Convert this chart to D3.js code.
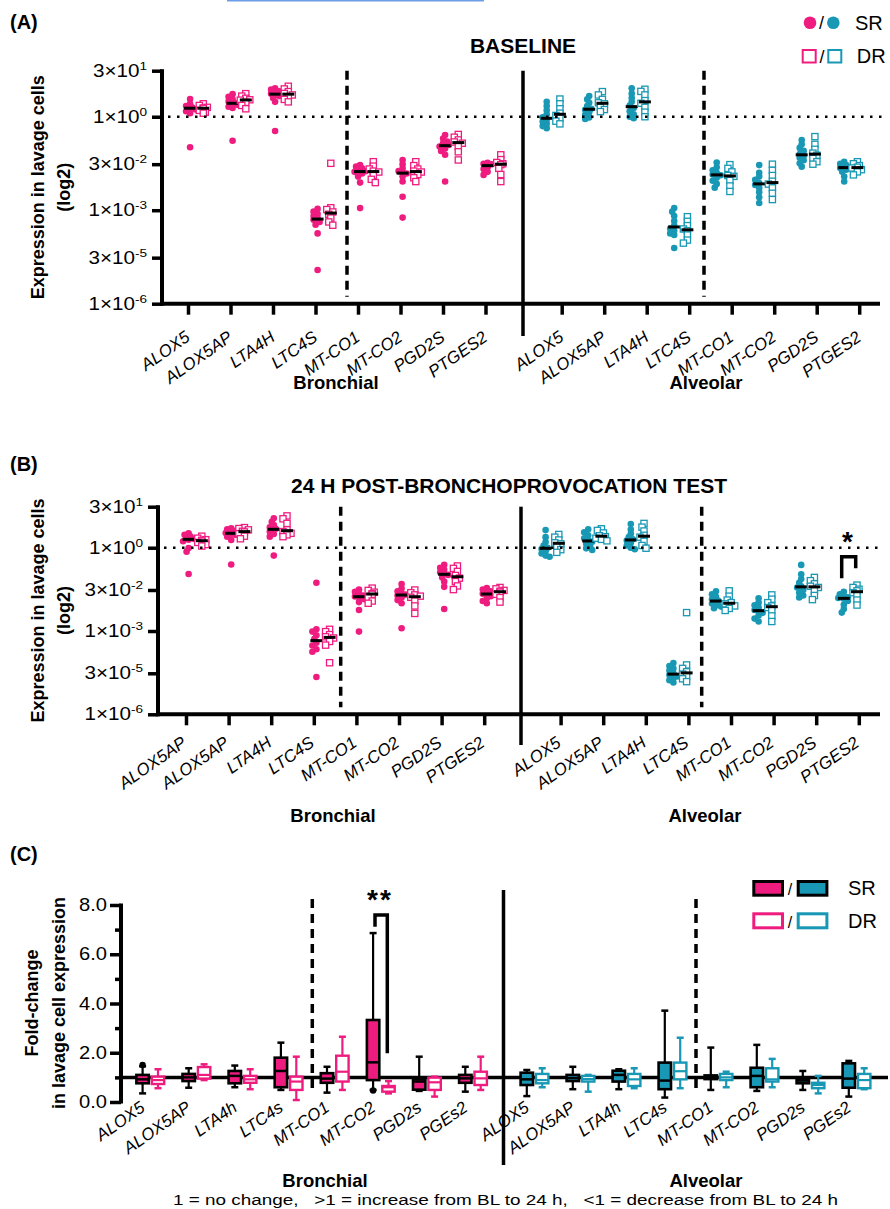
<!DOCTYPE html>
<html>
<meta charset="utf-8">
<head>
  <title>Lavage cell expression</title>
</head>
<style>
body { margin: 0; background: #fff; }
svg { display: block; font-family: "Liberation Sans", Arial, sans-serif; }
.ax path { display: none; }
.ax line { stroke: #000; stroke-width: 3.5px; }
.lbl { font-style: italic; font-size: 17px; }
.grp { font-weight: bold; font-size: 18.5px; text-anchor: middle; }
.ttl { font-weight: bold; font-size: 21px; text-anchor: middle; }
.ytitle { font-weight: bold; font-size: 18px; text-anchor: middle; }
.tick { font-size: 17.5px; text-anchor: end; }
</style>
<body>
<script src="https://cdnjs.cloudflare.com/ajax/libs/d3/7.8.5/d3.min.js"></script>
<script>

var pink = "#ef1c80", teal = "#1898b4";

var genesA = ["ALOX5","ALOX5AP","LTA4H","LTC4S","MT-CO1","MT-CO2","PGD2S","PTGES2"];
var genesBbronch = ["ALOX5AP","ALOX5AP","LTA4H","LTC4S","MT-CO1","MT-CO2","PGD2S","PTGES2"];
var genesC = ["ALOX5","ALOX5AP","LTA4h","LTC4s","MT-CO1","MT-CO2","PGD2s","PGEs2"];
var logTicks = [30, 1, 0.03, 1e-3, 3e-5, 1e-6];
var foldTicks = [0, 2, 4, 6, 8];
var foldMinor = [1, 3, 5, 7];

// baseline, bronchial / alveolar, SR (dots) and DR (squares)
var aBronchSR = [
  [3.7,2.6,2.2,2.0,1.9,1.85,1.7,1.5,1.3,0.105],
  [5.3,4.4,3.6,3.1,2.8,2.6,2.4,2.1,1.9,0.17],
  [8.2,7.4,6.6,6.0,5.5,5.1,4.6,4.0,3.0,0.35],
  [1.1e-3,9e-4,7.5e-4,6.5e-4,5.5e-4,4.9e-4,4.2e-4,3.4e-4,1.8e-4,1.2e-5],
  [0.028,0.025,0.022,0.019,0.0178,0.017,0.015,0.012,0.0077,0.00117],
  [0.041,0.03,0.022,0.018,0.016,0.015,0.012,0.0083,0.0027,0.00058],
  [0.26,0.2,0.16,0.14,0.125,0.111,0.095,0.08,0.06,0.0083],
  [0.033,0.031,0.03,0.029,0.028,0.026,0.024,0.021,0.017,0.0136]
];
var aBronchDR = [
  [2.6,2.3,2.0,1.9,1.85,1.6,1.4,1.3],
  [5.5,4.6,3.9,3.5,3.4,2.9,2.3,1.8],
  [9.5,7.8,6.4,5.6,5.0,4.3,3.6,3.0],
  [0.032,1.2e-3,1.05e-3,8.8e-4,7.4e-4,5.6e-4,4.2e-4,3.3e-4],
  [0.036,0.026,0.021,0.018,0.0168,0.013,0.0098,0.0077],
  [0.036,0.027,0.021,0.018,0.0168,0.014,0.011,0.0083],
  [0.27,0.22,0.18,0.155,0.141,0.11,0.075,0.041],
  [0.06,0.042,0.034,0.031,0.029,0.022,0.014,0.0083]
];
var aAlvSR = [
  [3.0,2.2,1.6,1.2,0.95,0.83,0.7,0.6,0.5,0.43],
  [4.6,3.6,2.8,2.2,1.8,1.68,1.4,1.15,0.95,0.85],
  [8.2,5.5,4.0,3.0,2.3,1.9,1.5,1.2,1.0,0.89],
  [1.17e-3,9e-4,6.5e-4,4.5e-4,3.2e-4,2.6e-4,2.2e-4,1.8e-4,1.6e-4,6.1e-5],
  [0.034,0.024,0.019,0.016,0.014,0.0132,0.011,0.0088,0.007,0.0053],
  [0.028,0.016,0.012,0.0095,0.0075,0.0065,0.0052,0.0038,0.0026,0.0017],
  [0.18,0.13,0.1,0.08,0.064,0.056,0.048,0.04,0.032,0.025],
  [0.036,0.031,0.028,0.026,0.024,0.0226,0.02,0.017,0.012,0.0083]
];
var aAlvDR = [
  [3.7,2.6,1.8,1.3,1.1,0.9,0.72,0.59],
  [6.4,5.0,3.6,2.8,2.6,2.0,1.7,1.46],
  [7.6,6.5,5.0,3.3,2.7,2.0,1.4,1.0],
  [6.2e-4,4.4e-4,3.2e-4,2.5e-4,2.2e-4,1.6e-4,1.1e-4,8.8e-5],
  [0.029,0.022,0.017,0.013,0.0122,0.009,0.006,0.004],
  [0.03,0.019,0.013,0.0085,0.0069,0.0052,0.0035,0.0022],
  [0.23,0.13,0.09,0.068,0.058,0.046,0.036,0.03],
  [0.036,0.031,0.027,0.024,0.0226,0.02,0.017,0.0136]
];

// 24 h post-bronchoprovocation
var bBronchSR = [
  [3.3,2.9,2.5,2.2,2.05,1.95,1.7,0.97,0.72,0.113],
  [5.0,4.6,4.1,3.6,3.4,3.2,2.9,2.5,1.9,0.25],
  [11.5,8.5,6.5,5.4,4.8,4.4,3.8,3.1,2.5,0.52],
  [0.055,1.15e-3,9.5e-4,7e-4,5.2e-4,3.8e-4,3.0e-4,2.2e-4,1.8e-4,2.2e-5],
  [0.031,0.026,0.022,0.019,0.0176,0.0168,0.014,0.011,0.0057,0.00095],
  [0.049,0.034,0.027,0.023,0.0205,0.019,0.016,0.013,0.01,0.00125],
  [0.24,0.19,0.16,0.13,0.115,0.105,0.085,0.06,0.039,0.0062],
  [0.035,0.031,0.027,0.024,0.022,0.021,0.018,0.015,0.012,0.01]
];
var bBronchDR = [
  [2.6,2.2,1.95,1.85,1.73,1.55,1.3,1.15],
  [5.3,4.9,4.4,3.9,3.7,3.2,2.6,2.1],
  [14,11,7.5,4.4,3.8,3.3,2.9,2.5],
  [1.15e-3,9.5e-4,7.4e-4,6.2e-4,5.6e-4,4.2e-4,3.1e-4,7.2e-5],
  [0.035,0.029,0.025,0.022,0.021,0.016,0.012,0.01],
  [0.03,0.024,0.02,0.018,0.0164,0.012,0.008,0.0043],
  [0.22,0.18,0.14,0.1,0.08,0.06,0.042,0.031],
  [0.037,0.033,0.029,0.027,0.025,0.021,0.016,0.011]
];
var bAlvSR = [
  [4.3,2.4,1.6,1.2,1.0,0.9,0.75,0.62,0.52,0.47],
  [4.6,3.6,2.8,2.2,1.85,1.65,1.4,1.1,0.95,0.83],
  [7.1,4.5,3.2,2.4,2.0,1.8,1.5,1.2,1.0,0.88],
  [7e-5,5.5e-5,4.5e-5,3.8e-5,3.0e-5,2.6e-5,2.3e-5,2.0e-5,1.7e-5,1.4e-5],
  [0.027,0.021,0.017,0.014,0.0125,0.0115,0.0098,0.0085,0.0075,0.0066],
  [0.015,0.0105,0.0085,0.007,0.0057,0.0051,0.0045,0.0036,0.0028,0.0022],
  [0.24,0.11,0.075,0.055,0.041,0.037,0.03,0.024,0.019,0.016],
  [0.026,0.021,0.018,0.0165,0.0155,0.0145,0.012,0.0088,0.0062,0.0046]
];
var bAlvDR = [
  [3.0,2.4,1.9,1.5,1.38,1.1,0.85,0.68],
  [4.8,4.2,3.4,2.7,2.5,2.2,2.0,1.77],
  [7.5,5.5,4.0,2.8,2.4,1.7,1.2,0.96],
  [4.6e-3,6e-5,4.5e-5,3.4e-5,2.8e-5,2.3e-5,1.9e-5,1.5e-5],
  [0.028,0.018,0.013,0.0105,0.0095,0.008,0.0065,0.0055],
  [0.02,0.014,0.0105,0.008,0.007,0.0055,0.0035,0.0022],
  [0.085,0.065,0.05,0.041,0.037,0.028,0.019,0.0135],
  [0.045,0.037,0.032,0.028,0.024,0.019,0.013,0.0086]
];

// fold-change boxes: [min, q1, median, q3, max]
var cBronchSR = [
  [0.35,0.76,0.92,1.10,1.45],
  [0.58,0.85,1.0,1.14,1.37],
  [0.6,0.76,1.06,1.26,1.48],
  [0.49,0.6,1.26,1.80,2.41],
  [0.38,0.78,0.95,1.17,1.43],
  [0.49,0.89,1.61,3.33,6.86],
  [0.45,0.5,0.83,0.92,1.84],
  [0.42,0.78,0.96,1.10,1.43]
];
var cBronchDR = [
  [0.56,0.73,0.89,1.03,1.33],
  [0.89,0.95,1.1,1.42,1.53],
  [0.52,0.78,0.92,1.06,1.33],
  [0.08,0.49,0.83,1.03,1.84],
  [0.49,0.83,1.23,1.88,2.65],
  [0.35,0.42,0.6,0.65,0.85],
  [0.22,0.49,0.8,0.99,1.03],
  [0.49,0.69,0.96,1.23,1.84]
];
var cAlvSR = [
  [0.24,0.69,0.92,1.19,1.30],
  [0.52,0.85,0.97,1.10,1.43],
  [0.52,0.83,1.10,1.27,1.33],
  [0.18,0.52,0.87,1.60,3.71],
  [0.49,0.93,1.0,1.08,2.21],
  [0.45,0.6,1.06,1.39,2.32],
  [0.49,0.76,0.87,0.92,1.26],
  [0.22,0.58,0.95,1.57,1.67]
];
var cAlvDR = [
  [0.6,0.76,0.89,1.14,1.37],
  [0.42,0.83,0.93,1.06,1.10],
  [0.56,0.65,0.92,1.14,1.37],
  [0.56,0.92,1.25,1.60,2.61],
  [0.6,0.89,1.0,1.14,1.23],
  [0.6,0.83,0.92,1.37,1.75],
  [0.35,0.56,0.69,0.78,1.06],
  [0.52,0.56,0.89,1.14,1.37]
];
var cBronchSRDots = [[1.5],[],[],[],[],[0.47],[],[]];

var width = 890, height = 1209;

var svg = d3.select("body").append("svg")
    .attr("width", width)
    .attr("height", height);

svg.append("rect").attr("width", width).attr("height", height).attr("fill", "#fff");
svg.append("rect").attr("x", 227).attr("y", 0).attr("width", 257).attr("height", 1.5).attr("fill", "#6d9de6");

function vline(x, y1, y2, dashed) {
  svg.append("line")
      .attr("x1", x).attr("x2", x).attr("y1", y1).attr("y2", y2)
      .attr("stroke", "#000").attr("stroke-width", 3.5)
      .attr("stroke-dasharray", dashed ? "9,6" : null);
}

function swarm(vals, y, cx, minD) {
  var pts = vals.map(function(v) { return {v: v, py: y(v)}; })
      .sort(function(a, b) { return a.py - b.py; });
  var placed = [];
  var offs = [0, -2, 2, -4, 4, -5.5, 5.5];
  pts.forEach(function(p) {
    for (var k = 0; k < offs.length; k++) {
      var ok = placed.every(function(q) {
        return Math.hypot(q.px - (cx + offs[k]), q.py - p.py) >= minD;
      });
      if (ok) { p.px = cx + offs[k]; break; }
    }
    if (p.px == null) p.px = cx;
    placed.push(p);
  });
  return pts;
}

// tick label like 3x10^-2, stretched a little as in the figure
function sciLabel(x, y, v) {
  var e = Math.floor(Math.log10(v) + 1e-9);
  var m = Math.round(v / Math.pow(10, e));
  var t = svg.append("text").attr("class", "tick")
      .attr("transform", "translate(" + x + "," + y + ") scale(1.18,1)");
  t.append("tspan").text(m + "\u00d710");
  t.append("tspan").attr("dy", -7).attr("font-size", 11.5).text(e);
}

function scatterPanel(cfg) {
  var y = d3.scaleLog().domain([1e-6, 30]).range([cfg.bot, cfg.top]);

  svg.append("g").attr("class", "ax")
      .attr("transform", "translate(" + cfg.axisX + ",0)")
      .call(d3.axisLeft(y).tickValues(logTicks).tickSize(10).tickFormat(""));
  svg.append("line").attr("x1", cfg.axisX).attr("x2", cfg.axisX)
      .attr("y1", cfg.top - 1.5).attr("y2", cfg.bot + 2)
      .attr("stroke", "#000").attr("stroke-width", 4);
  logTicks.forEach(function(v) {
    sciLabel(cfg.axisX - 15, y(v) + 6, v);
  });

  svg.append("line").attr("x1", cfg.axisX).attr("x2", cfg.xEnd)
      .attr("y1", cfg.bot).attr("y2", cfg.bot)
      .attr("stroke", "#000").attr("stroke-width", 4);

  [["b", cfg.dB, cfg.tB, cfg.labB, cfg.srB, cfg.drB, cfg.colB],
   ["a", cfg.dA, cfg.tA, cfg.labA, cfg.srA, cfg.drA, cfg.colA]].forEach(function(r) {
    var xd = d3.scaleLinear().domain([0, 7]).range([r[1], r[1] + 7 * cfg.step]);
    var xt = d3.scaleLinear().domain([0, 7]).range([r[1] + r[2], r[1] + r[2] + 7 * cfg.step]);
    var col = r[6];

    svg.append("g").attr("class", "ax")
        .attr("transform", "translate(0," + cfg.bot + ")")
        .call(d3.axisBottom(xt).tickValues(d3.range(8)).tickSize(11).tickFormat(""));

    r[3].forEach(function(name, i) {
      svg.append("text").attr("class", "lbl")
          .attr("text-anchor", "end")
          .attr("transform", "translate(" + (xt(i) + cfg.labDx) + "," + (cfg.bot + cfg.labDy) + ") rotate(-35)")
          .text(name);
    });

    r[4].forEach(function(vals, i) {
      var cx = xd(i) - 6.6;
      var pts = swarm(vals, y, cx, 3.8);
      svg.append("g").selectAll("circle").data(pts).enter().append("circle")
          .attr("cx", function(d) { return d.px; })
          .attr("cy", function(d) { return d.py; })
          .attr("r", 3.3).attr("fill", col);
      var md = y(d3.median(vals));
      svg.append("line").attr("x1", cx - 6).attr("x2", cx + 6)
          .attr("y1", md).attr("y2", md).attr("stroke", "#000").attr("stroke-width", 3);
    });
    r[5].forEach(function(vals, i) {
      var cx = xd(i) + 6.6;
      var pts = swarm(vals, y, cx, 4.2);
      svg.append("g").selectAll("rect").data(pts).enter().append("rect")
          .attr("x", function(d) { return d.px - 3.1; })
          .attr("y", function(d) { return d.py - 3.1; })
          .attr("width", 6.2).attr("height", 6.2)
          .attr("fill", "#fff").attr("stroke", col)
          .attr("stroke-width", 1.3);
      var md = y(d3.median(vals));
      svg.append("line").attr("x1", cx - 6).attr("x2", cx + 6)
          .attr("y1", md).attr("y2", md).attr("stroke", "#000").attr("stroke-width", 3);
    });
  });

  vline(cfg.sep, cfg.top, cfg.sepBot, false);
  vline(cfg.dashB, cfg.top, cfg.bot - 7, true);
  vline(cfg.dashA, cfg.top, cfg.bot - 7, true);
  svg.append("line").attr("x1", cfg.axisX + 6).attr("x2", 884)
      .attr("y1", y(1)).attr("y2", y(1))
      .attr("stroke", "#000").attr("stroke-width", 2.5).attr("stroke-dasharray", "2.5,6.5");

  svg.append("text").attr("class", "grp").attr("x", cfg.grpB).attr("y", cfg.grpY).text("Bronchial");
  svg.append("text").attr("class", "grp").attr("x", cfg.grpA).attr("y", cfg.grpY).text("Alveolar");

  var cy = (cfg.top + cfg.bot) / 2;
  svg.append("text").attr("class", "ytitle")
      .attr("transform", "translate(44," + cy + ") rotate(-90)").text("Expression in lavage cells");
  svg.append("text").attr("class", "ytitle")
      .attr("transform", "translate(70," + cy + ") rotate(-90)").text("(log2)");
  return y;
}

// panel A
svg.append("text").attr("x", 10).attr("y", 29).attr("font-weight", "bold").attr("font-size", 20).text("(A)");
svg.append("text").attr("class", "ttl").attr("x", 523).attr("y", 53).text("BASELINE");
scatterPanel({
  top: 70.7, bot: 303.7, axisX: 162, xEnd: 880, step: 42.5,
  dB: 196.7, dA: 553.3, tB: -8.7, tA: 8.4,
  labB: genesA, labA: genesA, labDx: 3, labDy: 36,
  srB: aBronchSR, drB: aBronchDR, srA: aAlvSR, drA: aAlvDR,
  colB: pink, colA: teal,
  sep: 523, sepBot: 336, dashB: 347, dashA: 704,
  grpB: 336, grpA: 706, grpY: 389
});

// legend A
svg.append("circle").attr("cx", 810).attr("cy", 22.7).attr("r", 6.3).attr("fill", pink);
svg.append("circle").attr("cx", 833.3).attr("cy", 22.7).attr("r", 6.3).attr("fill", teal);
svg.append("text").attr("x", 821.5).attr("y", 29).attr("font-size", 18).attr("text-anchor", "middle").text("/");
svg.append("text").attr("x", 855).attr("y", 30).attr("font-size", 20).text("SR");
svg.append("rect").attr("x", 802.7).attr("y", 50).attr("width", 13).attr("height", 12.5)
    .attr("fill", "#fff").attr("stroke", pink).attr("stroke-width", 2);
svg.append("rect").attr("x", 828.3).attr("y", 50).attr("width", 13).attr("height", 12.5)
    .attr("fill", "#fff").attr("stroke", teal).attr("stroke-width", 2);
svg.append("text").attr("x", 822).attr("y", 63).attr("font-size", 18).attr("text-anchor", "middle").text("/");
svg.append("text").attr("x", 856.7).attr("y", 63).attr("font-size", 20).text("DR");

// panel B
svg.append("text").attr("x", 10).attr("y", 471).attr("font-weight", "bold").attr("font-size", 20).text("(B)");
svg.append("text").attr("class", "ttl").attr("x", 509).attr("y", 493).attr("font-size", 22.6)
    .text("24 H POST-BRONCHOPROVOCATION TEST");
scatterPanel({
  top: 506.7, bot: 714.3, axisX: 158, xEnd: 880, step: 42.6,
  dB: 195.2, dA: 552.2, tB: -9.2, tA: 8.4,
  labB: genesBbronch, labA: genesA, labDx: 1.5, labDy: 31,
  srB: bBronchSR, drB: bBronchDR, srA: bAlvSR, drA: bAlvDR,
  colB: pink, colA: teal,
  sep: 521, sepBot: 745, dashB: 340.7, dashA: 701.7,
  grpB: 333, grpA: 705, grpY: 822
});
svg.append("path").attr("d", "M841.7,578.3V556.7H855.7V568.3")
    .attr("fill", "none").attr("stroke", "#000").attr("stroke-width", 3.5);
svg.append("text").attr("x", 847.5).attr("y", 551).attr("font-weight", "bold").attr("font-size", 28)
    .attr("text-anchor", "middle").text("*");

// panel C
svg.append("text").attr("x", 10).attr("y", 861).attr("font-weight", "bold").attr("font-size", 20).text("(C)");

var yC = d3.scaleLinear().domain([0, 8]).range([1102, 905]);
var axC = 121;
svg.append("g").attr("class", "ax").attr("transform", "translate(" + axC + ",0)")
    .call(d3.axisLeft(yC).tickValues(foldTicks).tickSize(11).tickFormat(""));
svg.append("g").attr("class", "ax").attr("transform", "translate(" + axC + ",0)")
    .call(d3.axisLeft(yC).tickValues(foldMinor).tickSize(6).tickFormat(""));
svg.append("line").attr("x1", axC).attr("x2", axC).attr("y1", yC(8) - 1.5).attr("y2", yC(0) + 1.5)
    .attr("stroke", "#000").attr("stroke-width", 4);
foldTicks.forEach(function(v) {
  svg.append("text").attr("class", "tick")
      .attr("transform", "translate(107," + (yC(v) + 6) + ") scale(1.15,1)")
      .text(v.toFixed(1));
});
svg.append("line").attr("x1", axC).attr("x2", 888).attr("y1", yC(1)).attr("y2", yC(1))
    .attr("stroke", "#000").attr("stroke-width", 3.5);

function boxes(centers, sr, dr, col, dots) {
  sr.forEach(function(b, i) {
    var cx = centers(i) - 7.7;
    var g = svg.append("g");
    g.append("line").attr("x1", cx).attr("x2", cx).attr("y1", yC(b[0])).attr("y2", yC(b[4]))
        .attr("stroke", "#000").attr("stroke-width", 2.2);
    [b[0], b[4]].forEach(function(v) {
      g.append("line").attr("x1", cx - 3.5).attr("x2", cx + 3.5).attr("y1", yC(v)).attr("y2", yC(v))
          .attr("stroke", "#000").attr("stroke-width", 2.5);
    });
    g.append("rect").attr("x", cx - 6.2).attr("width", 12.4)
        .attr("y", yC(b[3])).attr("height", yC(b[1]) - yC(b[3]))
        .attr("fill", col).attr("stroke", "#000").attr("stroke-width", 2.6);
    g.append("line").attr("x1", cx - 6.2).attr("x2", cx + 6.2).attr("y1", yC(b[2])).attr("y2", yC(b[2]))
        .attr("stroke", "#000").attr("stroke-width", 2.5);
    if (dots) dots[i].forEach(function(v) {
      g.append("circle").attr("cx", cx).attr("cy", yC(v)).attr("r", 3.2).attr("fill", "#000");
    });
  });
  dr.forEach(function(b, i) {
    var cx = centers(i) + 7.7;
    var g = svg.append("g");
    g.append("line").attr("x1", cx).attr("x2", cx).attr("y1", yC(b[0])).attr("y2", yC(b[4]))
        .attr("stroke", col).attr("stroke-width", 2.2);
    [b[0], b[4]].forEach(function(v) {
      g.append("line").attr("x1", cx - 3.5).attr("x2", cx + 3.5).attr("y1", yC(v)).attr("y2", yC(v))
          .attr("stroke", col).attr("stroke-width", 2.5);
    });
    g.append("rect").attr("x", cx - 6.2).attr("width", 12.4)
        .attr("y", yC(b[3])).attr("height", yC(b[1]) - yC(b[3]))
        .attr("fill", "#fff").attr("stroke", col).attr("stroke-width", 2.4);
    g.append("line").attr("x1", cx - 6.2).attr("x2", cx + 6.2).attr("y1", yC(b[2])).attr("y2", yC(b[2]))
        .attr("stroke", col).attr("stroke-width", 2.2);
  });
}

var xCb = d3.scaleLinear().domain([0, 7]).range([150.3, 150.3 + 7 * 46.1]);
var xCa = d3.scaleLinear().domain([0, 7]).range([534.5, 534.5 + 7 * 46]);
boxes(xCb, cBronchSR, cBronchDR, pink, cBronchSRDots);
boxes(xCa, cAlvSR, cAlvDR, teal, null);

[xCb, xCa].forEach(function(xs) {
  genesC.forEach(function(name, i) {
    svg.append("text").attr("class", "lbl").attr("text-anchor", "end")
        .attr("transform", "translate(" + (xs(i) - 4.3) + ",1110) rotate(-35)")
        .text(name);
  });
});

vline(503.5, 890, 1165, false);
vline(312.3, 899, 1092, true);
vline(696, 899, 1092, true);

svg.append("path").attr("d", "M375,926.7V915H387.3V1053.3")
    .attr("fill", "none").attr("stroke", "#000").attr("stroke-width", 3.5);
svg.append("text").attr("x", 380).attr("y", 909).attr("font-weight", "bold").attr("font-size", 28)
    .attr("text-anchor", "middle").attr("letter-spacing", 2).text("**");

svg.append("text").attr("class", "ytitle").attr("transform", "translate(38,1003) rotate(-90)").text("Fold-change");
svg.append("text").attr("class", "ytitle").attr("transform", "translate(65,1003) rotate(-90)").text("in lavage cell expression");

svg.append("text").attr("class", "grp").attr("x", 325).attr("y", 1187).text("Bronchial");
svg.append("text").attr("class", "grp").attr("x", 706).attr("y", 1187).text("Alveolar");
svg.append("text").attr("x", 173).attr("y", 1205).attr("font-size", 15.5)
    .attr("textLength", 665).attr("lengthAdjust", "spacingAndGlyphs")
    .style("white-space", "pre")
    .text("1 = no change,   >1 = increase from BL to 24 h,   <1 = decrease from BL to 24 h");

// legend C
[[752.3, pink], [796.7, teal]].forEach(function(l) {
  svg.append("rect").attr("x", l[0] + 1.5).attr("y", 881.5).attr("width", 28.7).attr("height", 13.7)
      .attr("fill", l[1]).attr("stroke", "#000").attr("stroke-width", 3);
  svg.append("rect").attr("x", l[0] + 1.5).attr("y", 913.8).attr("width", 28.7).attr("height", 14)
      .attr("fill", "#fff").attr("stroke", l[1]).attr("stroke-width", 3);
});
svg.append("text").attr("x", 790).attr("y", 895).attr("font-size", 16).attr("text-anchor", "middle").text("/");
svg.append("text").attr("x", 790).attr("y", 928).attr("font-size", 16).attr("text-anchor", "middle").text("/");
svg.append("text").attr("x", 848).attr("y", 895).attr("font-size", 20).text("SR");
svg.append("text").attr("x", 848).attr("y", 928).attr("font-size", 20).text("DR");

</script>
</body>
</html>
